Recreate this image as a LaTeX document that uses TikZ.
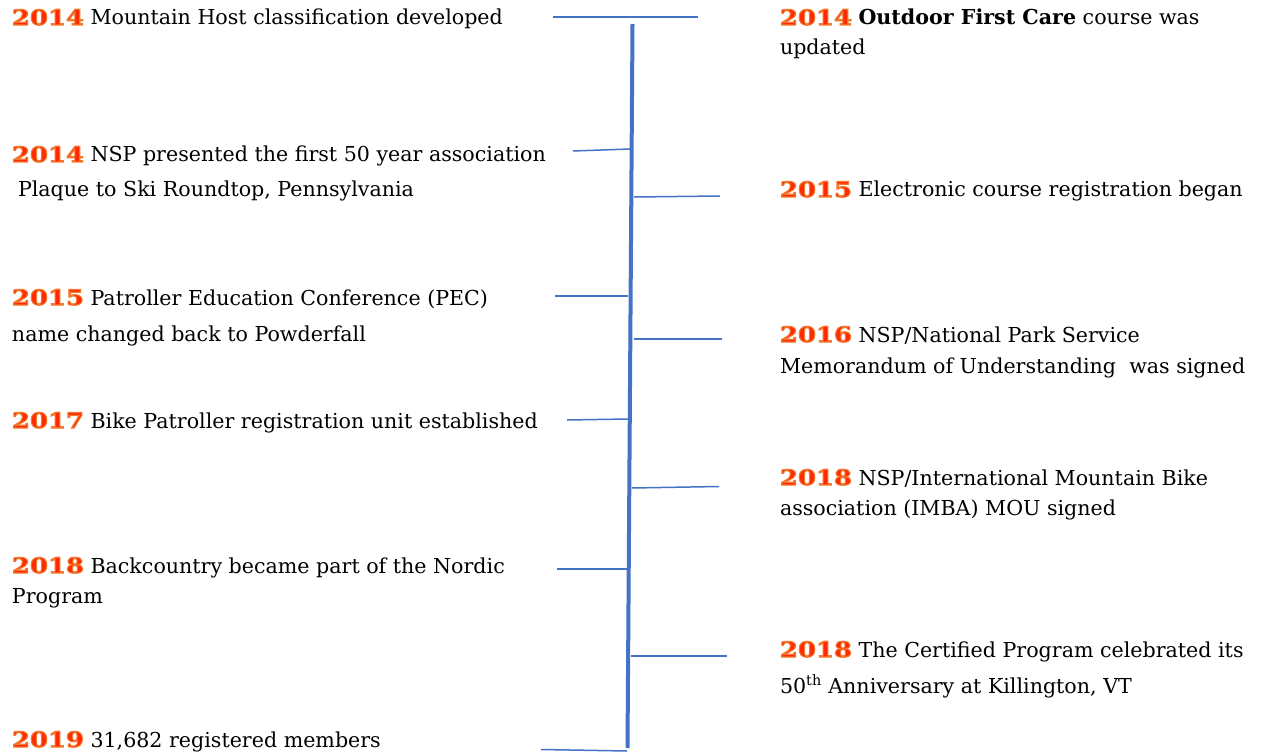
\documentclass[tikz,border=0pt]{standalone}
\usepackage{fontspec}
\setmainfont{DejaVu Serif}
\newfontfamily\yrfont[FakeStretch=1.22]{DejaVu Serif Bold}
\usetikzlibrary{calc}
\definecolor{tl}{HTML}{4472C4}
\definecolor{yrfill}{HTML}{FF2A00}
\newcommand\yr[1]{{\yrfont\fontsize{21.2}{24}\selectfont\color{yrfill}\special{pdf:literal direct 0.957 0.471 0.184 RG 2 Tr 1.1 w}#1\special{pdf:literal direct 0 Tr}}}
\tikzset{
  txt/.style={anchor=base west, inner sep=0pt, outer sep=0pt, font=\fontsize{20.6}{24}\selectfont, text=black},
  spine/.style={draw=tl, line width=4pt},
  tick/.style={draw=tl, line width=1.5pt}
}
\begin{document}
\begin{tikzpicture}[x=1pt,y=-1pt]
\useasboundingbox (0,0) rectangle (1261,754);
% spine
\coordinate (top) at (632.5,24);
\coordinate (bot) at (627.5,748);
\draw[spine] (top) -- (bot);
% tick end points
\coordinate (t1a) at (553,17);   \coordinate (t1b) at (698,17);
\coordinate (t2a) at (573,151);  \coordinate (t2b) at (630,149);
\coordinate (t3a) at (634,197);  \coordinate (t3b) at (720,196);
\coordinate (t4a) at (555,296);  \coordinate (t4b) at (628,296);
\coordinate (t5a) at (634,339);  \coordinate (t5b) at (722,339);
\coordinate (t6a) at (567,420);  \coordinate (t6b) at (628,419);
\coordinate (t7a) at (632,488);  \coordinate (t7b) at (719,486.5);
\coordinate (t8a) at (557,569);  \coordinate (t8b) at (628,569);
\coordinate (t9a) at (631,656);  \coordinate (t9b) at (727,656);
\coordinate (t10a) at (541,749.5); \coordinate (t10b) at (627,751);
\foreach \i in {1,...,10} \draw[tick] (t\i a) -- (t\i b);
% left column
\node[txt] (l1)  at (12,25)  {\yr{2014} Mountain Host classification developed};
\node[txt] (l2a) at (12,162) {\yr{2014} NSP presented the first 50 year association};
\node[txt] (l2b) at (18,197) {Plaque to Ski Roundtop, Pennsylvania};
\node[txt] (l3a) at (12,305) {\yr{2015} Patroller Education Conference (PEC)};
\node[txt] (l3b) at (12,341) {name changed back to Powderfall};
\node[txt] (l4)  at (12,428) {\yr{2017} Bike Patroller registration unit established};
\node[txt] (l5a) at (12,573) {\yr{2018} Backcountry became part of the Nordic};
\node[txt] (l5b) at (12,603) {Program};
\node[txt] (l6)  at (12,747) {\yr{2019} 31,682 registered members};
% right column
\node[txt] (r1a) at (780,25)  {\yr{2014} \textbf{Outdoor First Care} course was};
\node[txt] (r1b) at (780,55)  {updated};
\node[txt] (r2)  at (780,197) {\yr{2015} Electronic course registration began};
\node[txt] (r3a) at (780,342) {\yr{2016} NSP/National Park Service};
\node[txt] (r3b) at (780,373) {Memorandum of Understanding\ \ was signed};
\node[txt] (r4a) at (780,485) {\yr{2018} NSP/International Mountain Bike};
\node[txt] (r4b) at (780,515) {association (IMBA) MOU signed};
\node[txt] (r5a) at (780,657) {\yr{2018} The Certified Program celebrated its};
\node[txt] (r5b) at (780,693) {50\textsuperscript{th} Anniversary at Killington, VT};
\end{tikzpicture}
\end{document}
